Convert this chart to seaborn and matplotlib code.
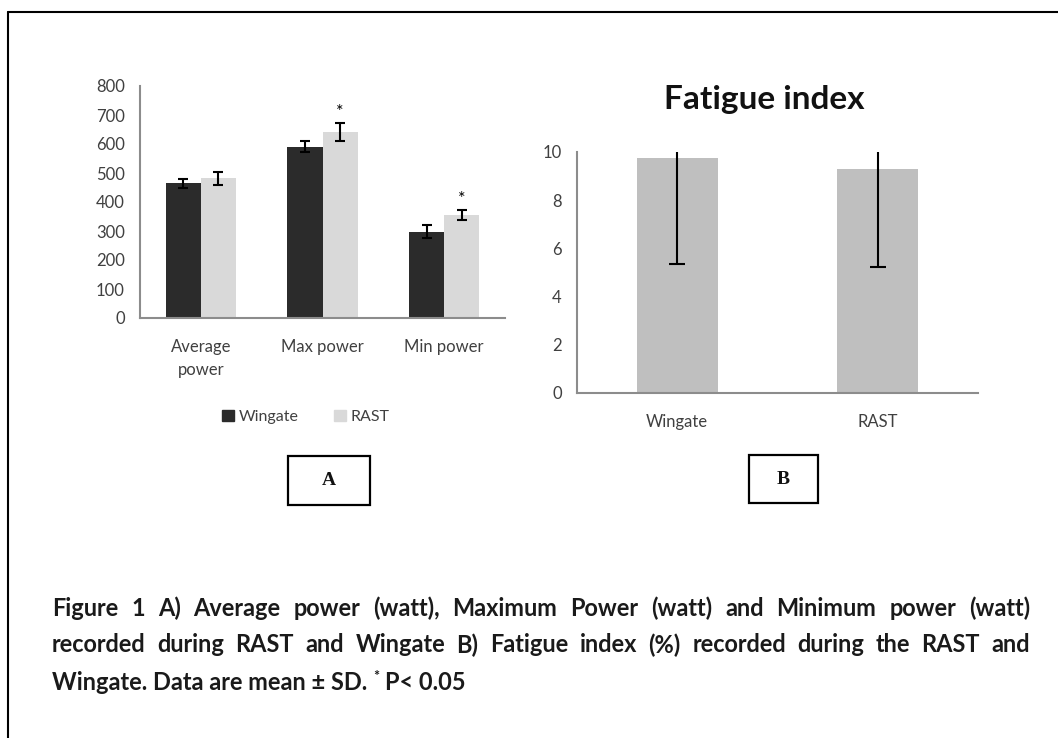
import matplotlib
matplotlib.use("Agg")
import matplotlib.pyplot as plt
import seaborn as sns
import pandas as pd
import numpy as np
from matplotlib.patches import Rectangle
from matplotlib.lines import Line2D
from matplotlib.container import BarContainer

# ---------------- data ----------------
power_categories = ["Average\npower", "Max power", "Min power"]
power_groups = ["Wingate", "RAST"]
wingate_power_mean = [464, 591, 298]
wingate_power_sd = [17, 20, 22]
rast_power_mean = [482, 642, 356]
rast_power_sd = [22, 30, 17]
rast_significant = [False, True, True]
power_yticks = [0, 100, 200, 300, 400, 500, 600, 700, 800]

fatigue_categories = ["Wingate", "RAST"]
fatigue_mean = [9.74, 9.28]
fatigue_sd = [4.40, 4.04]
fatigue_yticks = [0, 2, 4, 6, 8, 10]

caption_lines = [
    "Figure 1 A) Average power (watt), Maximum Power (watt) and Minimum power (watt)",
    "recorded during RAST and Wingate B) Fatigue index (%) recorded during the RAST and",
]
caption_last = ["Wingate. Data are mean \u00b1 SD.", "*", "P< 0.05"]

# ---------------- style ----------------
sns.set_style("white")
plt.rcParams["font.family"] = ["Lato", "DejaVu Sans"]
W, H = 1058, 738
fig = plt.figure(figsize=(W / 100, H / 100), dpi=100)

TICK_COL = "#404040"
SPINE_COL = "#8c8c8c"
DARK = "#2b2b2b"
LIGHT = "#d9d9d9"
MID = "#bfbfbf"


def fx(px):
    return px / W


def fy(py):
    return 1 - py / H


def style_axes(ax, ncat):
    for s in ["top", "right"]:
        ax.spines[s].set_visible(False)
    for s in ["left", "bottom"]:
        ax.spines[s].set_color(SPINE_COL)
        ax.spines[s].set_linewidth(1.5)
    ax.set_xlim(-0.5, ncat - 0.5)
    ax.set_xticks(np.arange(-0.5, ncat, 1.0), minor=True)
    ax.tick_params(axis="x", which="minor", length=6, width=1.5, color=SPINE_COL, direction="out")
    ax.tick_params(axis="x", which="major", length=0, labelsize=12, labelcolor=TICK_COL, pad=15)
    ax.tick_params(axis="y", which="major", length=6, width=1.5, color=SPINE_COL, direction="out",
                   labelsize=12, labelcolor=TICK_COL, pad=5)
    for lab in ax.get_xticklabels():
        lab.set_linespacing(1.55)
    ax.set_xlabel("")
    ax.set_ylabel("")


# ---------------- panel A ----------------
axA = fig.add_axes([fx(140), fy(318), fx(505) - fx(140), fy(86) - fy(318)])
dfA = pd.DataFrame({
    "cat": power_categories * 2,
    "group": [power_groups[0]] * 3 + [power_groups[1]] * 3,
    "val": wingate_power_mean + rast_power_mean,
})
sns.barplot(data=dfA, x="cat", y="val", hue="group", hue_order=power_groups,
            palette=[DARK, LIGHT], width=0.58, gap=0, errorbar=None, ax=axA,
            saturation=1, legend=False, linewidth=0)
axA.set_ylim(0, 800)
axA.set_yticks(power_yticks)
style_axes(axA, 3)

sds = [wingate_power_sd, rast_power_sd]
means = [wingate_power_mean, rast_power_mean]
bar_conts = [c for c in axA.containers if isinstance(c, BarContainer)]
for gi, cont in enumerate(bar_conts):
    xs = [p.get_x() + p.get_width() / 2 for p in cont]
    axA.errorbar(xs, means[gi], yerr=sds[gi], fmt="none", ecolor="black",
                 elinewidth=1.5, capsize=3.5, capthick=1.5)
    if gi == 1:
        for x, m, s, sig in zip(xs, means[gi], sds[gi], rast_significant):
            if sig:
                axA.text(x, m + s + 10, "*", ha="center", va="bottom", fontsize=13, color="black")

legA = axA.legend(handles=[Rectangle((0, 0), 1, 1, color=DARK), Rectangle((0, 0), 1, 1, color=LIGHT)],
                  labels=power_groups, loc="center", bbox_to_anchor=(fx(306), fy(417)),
                  bbox_transform=fig.transFigure, ncol=2, frameon=False, fontsize=11.5,
                  handlelength=0.75, handleheight=0.75, handletextpad=0.3, columnspacing=2.2)
for t in legA.get_texts():
    t.set_color(TICK_COL)

# ---------------- panel B ----------------
axB = fig.add_axes([fx(577), fy(393), fx(978) - fx(577), fy(152) - fy(393)])
dfB = pd.DataFrame({"cat": fatigue_categories, "val": fatigue_mean})
sns.barplot(data=dfB, x="cat", y="val", color=MID, width=0.405, errorbar=None,
            ax=axB, saturation=1, linewidth=0)
axB.set_ylim(0, 10)
axB.set_yticks(fatigue_yticks)
style_axes(axB, 2)
xsB = [p.get_x() + p.get_width() / 2 for p in axB.patches]
axB.errorbar(xsB, fatigue_mean, yerr=fatigue_sd, fmt="none", ecolor="black",
             elinewidth=1.5, capsize=6, capthick=1.5)
fig.text(fx(764), fy(100), "Fatigue index", ha="center", va="center",
         fontsize=24, fontweight="bold", color="#111111")

# ---------------- labelled boxes ----------------
for (x0, y0, x1, y1, lab) in [(288, 456, 370, 505, "A"), (749, 455, 818, 503, "B")]:
    fig.patches.append(Rectangle((fx(x0), fy(y1)), fx(x1) - fx(x0), fy(y0) - fy(y1),
                                 transform=fig.transFigure, fill=False, edgecolor="black", linewidth=1.6))
    fig.text(fx((x0 + x1) / 2), fy((y0 + y1) / 2), lab, ha="center", va="center",
             fontsize=14, fontweight="bold", family=["Liberation Serif", "DejaVu Serif"], color="#111111")

# ---------------- outer frame ----------------
fig.add_artist(Line2D([fx(8), fx(8)], [fy(12), 0], transform=fig.transFigure, color="black", lw=1.5))
fig.add_artist(Line2D([fx(8), 1], [fy(12), fy(12)], transform=fig.transFigure, color="black", lw=1.5))

# ---------------- caption (justified) ----------------
renderer = fig.canvas.get_renderer()
cap_kw = dict(fontweight="bold", color="#1a1a1a", va="center", ha="left")


def text_width(s, size):
    t = fig.text(0, 0, s, fontsize=size, **cap_kw)
    w = t.get_window_extent(renderer).width
    t.remove()
    return w


# fit size so that the last line is ~421 px wide
full_last = caption_last[0] + " * " + caption_last[2]
fs = 14 * 421 / text_width(full_last, 14)

left_px, right_px = 52, 1030
line_y = [608, 645]
for line, yy in zip(caption_lines, line_y):
    words = line.split(" ")
    widths = [text_width(w_, fs) for w_ in words]
    gap = (right_px - left_px - sum(widths)) / (len(words) - 1)
    x = left_px
    for w_, ww in zip(words, widths):
        fig.text(fx(x), fy(yy), w_, fontsize=fs, **cap_kw)
        x += ww + gap

x = left_px
sp = text_width("a a", fs) - 2 * text_width("a", fs)
fig.text(fx(x), fy(682), caption_last[0], fontsize=fs, **cap_kw)
x += text_width(caption_last[0], fs) + sp
fig.text(fx(x), fy(676), caption_last[1], fontsize=fs * 0.6, **cap_kw)
x += text_width(caption_last[1], fs * 0.6) + sp
fig.text(fx(x), fy(682), caption_last[2], fontsize=fs, **cap_kw)

fig.savefig("out.png", dpi=100, facecolor="white")
